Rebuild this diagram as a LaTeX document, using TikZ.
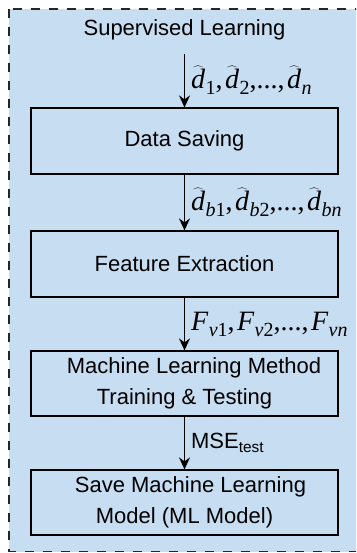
\RequirePackage{fix-cm}
\documentclass[tikz,border=0pt]{standalone}
\usepackage{fontspec}
\setmainfont{Liberation Sans}
\newfontfamily\lserif{Liberation Serif}
\usetikzlibrary{arrows.meta}
\definecolor{bgblue}{RGB}{199,221,242}
\newcommand{\subtxt}[1]{\raisebox{-6pt}{\fontsize{20}{20}\selectfont #1}}
\newcommand{\hatd}[1]{\ensuremath{\widehat{\mbox{\itshape d}}}\kern0.5pt\subtxt{#1}}
\newcommand{\ffv}[1]{{\itshape F}\kern0.5pt\subtxt{#1}}
\newcommand{\csep}{,\kern2.5pt}
\tikzset{
  box/.style={draw=black, line width=1.2pt, fill=bgblue, minimum width=307pt,
              minimum height=66pt, inner sep=0pt, align=center},
  arr/.style={line width=1.3pt, -{Stealth[length=12pt,width=11pt]}},
  lab/.style={midway, anchor=west, inner sep=0pt, xshift=6pt},
  mlab/.style={lab, font=\lserif\fontsize{28}{28}\selectfont},
  frame/.style={draw=black!85, line width=1.3pt, dash pattern=on 9pt off 9pt, fill=bgblue}
}
\begin{document}
\begin{tikzpicture}[x=1pt, y=-1pt, font=\fontsize{22}{31}\selectfont]
\useasboundingbox (0,0) rectangle (356,553);
\clip (0,0) rectangle (356,553);
\draw[frame] (9,9) rectangle (364,551.5);
\node[anchor=base, inner xsep=0pt, inner ysep=13pt] (title) at (184.5,36) {Supervised Learning};
\node[box] (ds) at (184.5,141) {Data Saving};
\node[box] (fe) at (184.5,264) {Feature Extraction};
\node[box, minimum height=65pt] (ml) at (184.5,383.5) {\hspace*{19pt}Machine Learning Method\\Training \& Testing};
\node[box, minimum height=65pt] (sv) at (184.5,502.5) {\hspace*{12pt}Save Machine Learning\\Model (ML Model)};
\draw[arr] (title.south) -- (ds.north)
  node[mlab] {\hatd{1}\csep\hatd{2},...\csep\hatd{\itshape n}};
\draw[arr] (ds.south) -- (fe.north)
  node[mlab] {\hatd{{\itshape b}1}\csep\hatd{{\itshape b}2},...\csep\hatd{\itshape bn}};
\draw[arr] (fe.south) -- (ml.north)
  node[mlab] {\ffv{{\itshape v}1}\csep\ffv{{\itshape v}2},...\csep\ffv{\itshape vn}};
\draw[arr] (ml.south) -- (sv.north)
  node[lab] {MSE\textsubscript{test}};
\end{tikzpicture}
\end{document}
